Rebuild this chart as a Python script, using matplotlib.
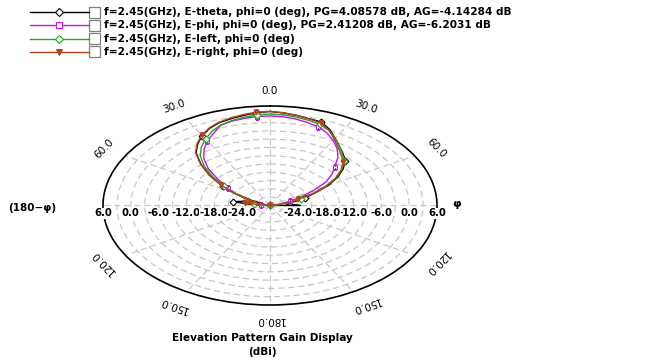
import numpy as np
import matplotlib.pyplot as plt
from matplotlib.lines import Line2D
from matplotlib.patches import Rectangle
from matplotlib import transforms

plt.rcParams['font.family'] = ['DejaVu Sans']

# elevation cut, phi = 0, gain in dBi (centre of the plot is -30 dBi)
angles = list(range(-95, 100, 5))
e_theta = [-30, -30, -26, -22, -24, -28.5, -25.5, -21.5, -17.5, -13, -9, -5.2, -2.8,
           -0.8, 0.8, 1.9, 2.5, 3.1, 3.7, 4.0, 3.6, 3.1, 2.5, 2.2, 0.4, -1.9, -3.9,
           -5.5, -7.0, -9.4, -12.2, -15.5, -19.3, -22, -24.5, -26.5, -25.5, -23.5, -30]
e_phi = [-30, -30, -29, -28, -27, -26, -24, -21.5, -18.9, -15.5, -11.2, -7.8, -5.2,
         -3.0, -1.2, 0.9, 1.6, 2.0, 2.3, 2.4, 2.2, 1.8, 1.1, 0.3, -1.0, -2.8, -4.8,
         -7.2, -10.3, -12.6, -15.4, -19.2, -22.5, -25.5, -27.5, -29, -30, -30, -30]
e_left = [-30, -30, -28.5, -26.5, -26, -26, -24.5, -21.5, -18, -14, -10, -6.6, -4.2,
          -2.2, -0.4, 1.0, 1.8, 2.4, 2.9, 3.1, 2.9, 2.5, 1.9, 1.3, 0.0, -1.9, -3.9,
          -5.7, -7.4, -9.8, -12.6, -16, -19.6, -23, -25.5, -27.5, -29, -30, -30]
e_right = [-30, -30, -27.5, -24.5, -25.5, -27, -24.5, -21, -17, -12.8, -8.8, -5.0, -2.6,
           -0.6, 1.0, 2.1, 2.8, 3.4, 3.9, 4.1, 3.7, 3.1, 2.4, 1.9, 0.1, -2.3, -4.4,
           -6.1, -7.7, -10, -12.8, -16.2, -20, -23.5, -26, -28, -29.5, -30, -30]

labels = [
    "f=2.45(GHz), E-theta, phi=0 (deg), PG=4.08578 dB, AG=-4.14284 dB",
    "f=2.45(GHz), E-phi, phi=0 (deg), PG=2.41208 dB, AG=-6.2031 dB",
    "f=2.45(GHz), E-left, phi=0 (deg)",
    "f=2.45(GHz), E-right, phi=0 (deg)",
]
series = [e_theta, e_phi, e_left, e_right]
colors = ['#000000', '#c414f4', '#26a626', '#b4461a']
markers = ['D', 's', 'D', 'v']
fills = ['white', 'white', 'white', '#b4461a']

r_ticks = [-24, -18, -12, -6, 0, 6]
theta_ticks = [0, 30, 60, 120, 150, 180, -30, -60, -120, -150]

W, H = 664, 360
fig = plt.figure(figsize=(W / 100, H / 100), dpi=100)
ax = fig.add_axes([103 / W, 55 / H, 334 / W, 199 / H], projection='polar')
ax.set_aspect('auto')
ax.set_theta_zero_location('N')
ax.set_theta_direction(-1)
ax.set_ylim(-30, 6)
ax.set_yticks(np.arange(-27, 6, 3))
ax.set_xticks(np.radians(np.arange(0, 360, 30)))
ax.set_xticklabels([])
ax.set_yticklabels([])
ax.grid(True, color='#c8c8c8', linestyle=(0, (5, 3)), linewidth=0.9)
ax.spines['polar'].set_color('black')
ax.spines['polar'].set_linewidth(1.2)

th = np.radians(angles)
for vals, c, m, fc in zip(series, colors, markers, fills):
    ax.plot(th, vals, color=c, lw=1.0, marker=m, ms=3.5, mfc=fc, mec=c,
            mew=0.8, markevery=(3, 5), zorder=3)

# angle labels, rotated along the (stretched) rim
k = 334 / 199
for t in theta_ticks:
    a = np.radians(t)
    rot = np.degrees(np.arctan2(-np.sin(a), k * np.cos(a)))
    ax.text(a, 11.4, f"{abs(t):.1f}", ha='center', va='center', rotation=rot,
            rotation_mode='anchor', fontsize=7.5, clip_on=False)

# gain scale along the horizontal axis
below = transforms.offset_copy(ax.transData, fig=fig, x=0, y=-8, units='dots')
for side in (np.radians(90), np.radians(-90)):
    for v in r_ticks[::-1]:
        ax.text(side, v, f"{v:.1f}", transform=below, ha='center', va='center',
                fontsize=7.3, fontweight='bold', clip_on=False,
                bbox=dict(fc='white', ec='none', pad=0.2))

fig.text(8 / W, 1 - 208 / H, "(180\u2212\u03c6)", fontsize=7.5, fontweight='bold',
         va='center', ha='left')
fig.text(452 / W, 1 - 204 / H, "\u03c6", fontsize=8, fontweight='bold',
         va='center', ha='left')

fig.text(262 / W, 1 - 338 / H, "Elevation Pattern Gain Display", fontsize=7.6,
         fontweight='bold', ha='center', va='center')
fig.text(262 / W, 1 - 352 / H, "(dBi)", fontsize=7.6, fontweight='bold',
         ha='center', va='center')

# legend rows: line sample, checkbox, caption
for i, (lab, c, m, fc) in enumerate(zip(labels, colors, markers, fills)):
    y = 1 - (12 + 13.3 * i) / H
    fig.add_artist(Line2D([30 / W, 89 / W], [y, y], color=c, lw=1.0,
                          transform=fig.transFigure))
    fig.add_artist(Line2D([59 / W], [y], color=c, marker=m, ms=4, mfc=fc, mec=c,
                          mew=0.8, transform=fig.transFigure))
    fig.add_artist(Rectangle((89 / W, y - 5.5 / H), 11 / W, 11 / H, fc='white',
                             ec='#808080', lw=0.9, transform=fig.transFigure))
    fig.text(104 / W, y, lab, fontsize=7.6, fontweight='bold', va='center', ha='left')

fig.savefig('out.png', dpi=100)
